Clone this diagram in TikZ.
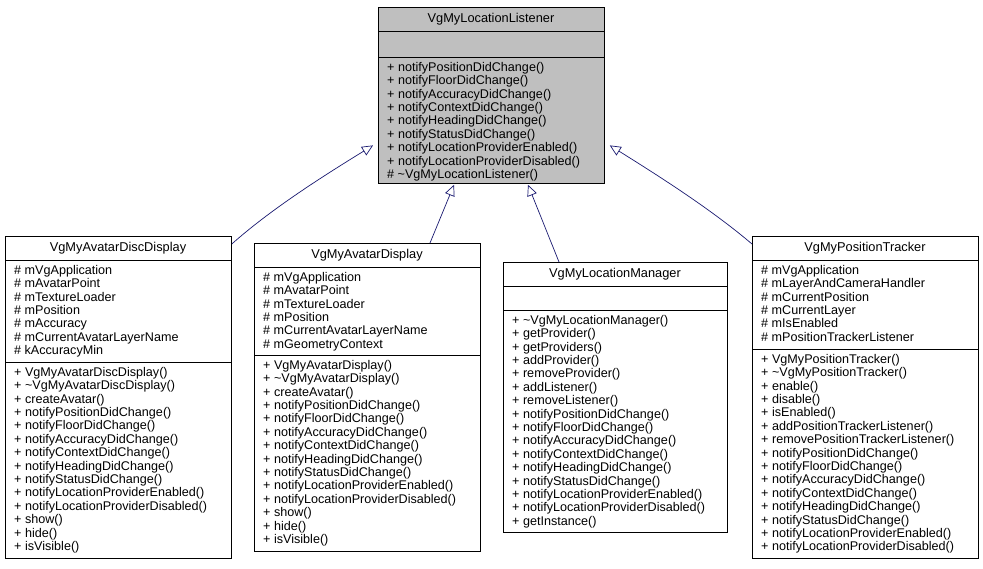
\documentclass[tikz,border=0pt]{standalone}
\usepackage{fontspec}
\setmainfont{Liberation Sans}
\usetikzlibrary{positioning, arrows.meta, calc}

\definecolor{edgeblue}{HTML}{191970}
\tikzset{
  box/.style={draw, line width=0.8pt, anchor=north west, inner sep=0pt},
  title/.style={font=\fontsize{12.8}{14}\selectfont},
  members/.style={anchor=north west, align=left, inner sep=0pt, font=\fontsize{12.6}{13.4}\selectfont},
  inherit/.style={draw=edgeblue, line width=0.7pt, -{Triangle[open, length=11pt, width=10pt]}}
}

\begin{document}
\begin{tikzpicture}[x=1pt, y=-1pt]
\useasboundingbox (0,0) rectangle (983,568);

% base class
\node[box, fill=gray!50, minimum width=226pt, minimum height=176pt] (listener) at (378,7) {};
\draw[line width=0.8pt] (378,31) -- (604,31) (378,57) -- (604,57);
\node[title] (listenerT) at (491,19) {VgMyLocationListener};
\node[members] (listenerM) at (387,62) {+ notifyPositionDidChange()\\+ notifyFloorDidChange()\\+ notifyAccuracyDidChange()\\+ notifyContextDidChange()\\+ notifyHeadingDidChange()\\+ notifyStatusDidChange()\\+ notifyLocationProviderEnabled()\\+ notifyLocationProviderDisabled()\\\# \textasciitilde VgMyLocationListener()};

% avatar disc display
\node[box, fill=white, minimum width=226pt, minimum height=322pt] (disc) at (5,236) {};
\draw[line width=0.8pt] (5,260) -- (231,260) (5,362) -- (231,362);
\node[title] (discT) at (118,248) {VgMyAvatarDiscDisplay};
\node[members] (discA) at (14,265) {\# mVgApplication\\\# mAvatarPoint\\\# mTextureLoader\\\# mPosition\\\# mAccuracy\\\# mCurrentAvatarLayerName\\\# kAccuracyMin};
\node[members] (discM) at (14,367) {+ VgMyAvatarDiscDisplay()\\+ \textasciitilde VgMyAvatarDiscDisplay()\\+ createAvatar()\\+ notifyPositionDidChange()\\+ notifyFloorDidChange()\\+ notifyAccuracyDidChange()\\+ notifyContextDidChange()\\+ notifyHeadingDidChange()\\+ notifyStatusDidChange()\\+ notifyLocationProviderEnabled()\\+ notifyLocationProviderDisabled()\\+ show()\\+ hide()\\+ isVisible()};

% avatar display
\node[box, fill=white, minimum width=226pt, minimum height=308pt] (avatar) at (254,243) {};
\draw[line width=0.8pt] (254,267) -- (480,267) (254,355) -- (480,355);
\node[title] (avatarT) at (367,255) {VgMyAvatarDisplay};
\node[members] (avatarA) at (263,272) {\# mVgApplication\\\# mAvatarPoint\\\# mTextureLoader\\\# mPosition\\\# mCurrentAvatarLayerName\\\# mGeometryContext};
\node[members] (avatarM) at (263,360) {+ VgMyAvatarDisplay()\\+ \textasciitilde VgMyAvatarDisplay()\\+ createAvatar()\\+ notifyPositionDidChange()\\+ notifyFloorDidChange()\\+ notifyAccuracyDidChange()\\+ notifyContextDidChange()\\+ notifyHeadingDidChange()\\+ notifyStatusDidChange()\\+ notifyLocationProviderEnabled()\\+ notifyLocationProviderDisabled()\\+ show()\\+ hide()\\+ isVisible()};

% location manager
\node[box, fill=white, minimum width=224pt, minimum height=270pt] (manager) at (503,262) {};
\draw[line width=0.8pt] (503,286) -- (727,286) (503,310) -- (727,310);
\node[title] (managerT) at (615,274) {VgMyLocationManager};
\node[members] (managerM) at (512,315) {+ \textasciitilde VgMyLocationManager()\\+ getProvider()\\+ getProviders()\\+ addProvider()\\+ removeProvider()\\+ addListener()\\+ removeListener()\\+ notifyPositionDidChange()\\+ notifyFloorDidChange()\\+ notifyAccuracyDidChange()\\+ notifyContextDidChange()\\+ notifyHeadingDidChange()\\+ notifyStatusDidChange()\\+ notifyLocationProviderEnabled()\\+ notifyLocationProviderDisabled()\\+ getInstance()};

% position tracker
\node[box, fill=white, minimum width=226pt, minimum height=322pt] (tracker) at (752,236) {};
\draw[line width=0.8pt] (752,260) -- (978,260) (752,349) -- (978,349);
\node[title] (trackerT) at (865,248) {VgMyPositionTracker};
\node[members] (trackerA) at (761,265) {\# mVgApplication\\\# mLayerAndCameraHandler\\\# mCurrentPosition\\\# mCurrentLayer\\\# mIsEnabled\\\# mPositionTrackerListener};
\node[members] (trackerM) at (761,354) {+ VgMyPositionTracker()\\+ \textasciitilde VgMyPositionTracker()\\+ enable()\\+ disable()\\+ isEnabled()\\+ addPositionTrackerListener()\\+ removePositionTrackerListener()\\+ notifyPositionDidChange()\\+ notifyFloorDidChange()\\+ notifyAccuracyDidChange()\\+ notifyContextDidChange()\\+ notifyHeadingDidChange()\\+ notifyStatusDidChange()\\+ notifyLocationProviderEnabled()\\+ notifyLocationProviderDisabled()};

% inheritance
\draw[inherit] ($(disc.north east)+(0,8)$) .. controls (270,210) and (320,178) .. ($(listener.west)+(-5,50)$);
\draw[inherit] ($(avatar.north west)+(176,0)$) -- ($(listener.south west)+(76,1)$);
\draw[inherit] ($(manager.north west)+(56,0)$) -- ($(listener.south west)+(150,1)$);
\draw[inherit] ($(tracker.north west)+(0,8)$) .. controls (712,210) and (662,178) .. ($(listener.east)+(5,50)$);
\end{tikzpicture}
\end{document}
